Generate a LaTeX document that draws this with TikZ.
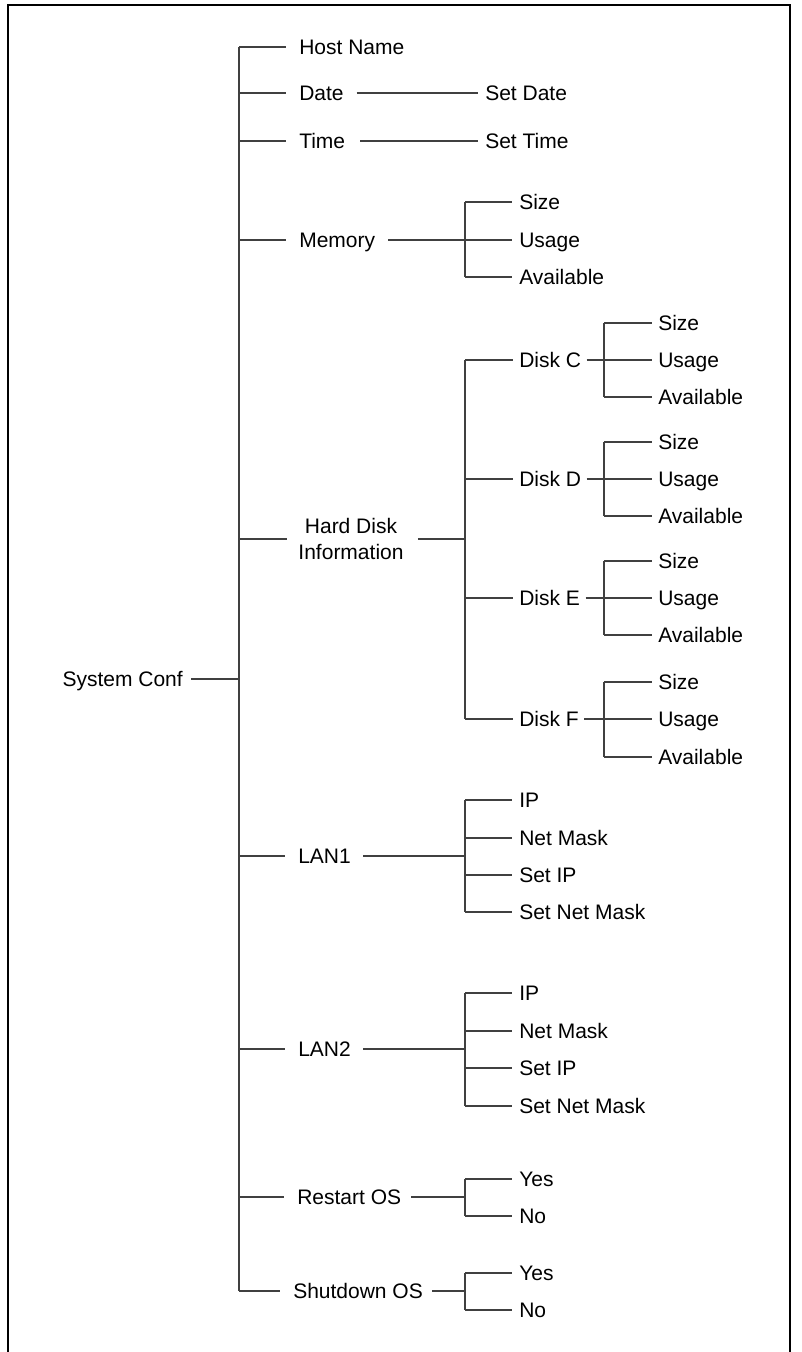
\documentclass[tikz,border=0pt]{standalone}
\usepackage{fontspec}
\setmainfont{Liberation Sans}
\begin{document}
\begin{tikzpicture}[x=0.75pt,y=-0.75pt,
  lbl/.style={inner sep=0pt, text height=11.3pt, text depth=0pt, anchor=west,
    font=\fontsize{15.75pt}{19.5pt}\selectfont},
  twoline/.style={inner sep=0pt, align=center, anchor=center,
    font=\fontsize{15.75pt}{19.5pt}\selectfont},
  ln/.style={draw=black!75, line width=0.8pt},
  frame/.style={draw=black, line width=1.6pt}]
\useasboundingbox (0,0) rectangle (801,1352);
\draw[frame] (8,1352) -- (8,5) -- (790,5) -- (790,1352);

% bracket x positions
\coordinate (T) at (239,0);
\coordinate (B1) at (465,0);
\coordinate (B2) at (604,0);

% root
\node[lbl, anchor=east] (sys) at (183,679) {System Conf};

% level 1
\node[lbl] (host) at (299,47) {Host Name};
\node[lbl] (date) at (299,93) {Date};
\node[lbl] (time) at (299,141) {Time};
\node[lbl] (mem) at (299,240) {Memory};
\node[twoline] (hdi) at (351,539) {Hard Disk\\Information};
\node[lbl] (lan1) at (298,856) {LAN1};
\node[lbl] (lan2) at (298,1049) {LAN2};
\node[lbl] (restart) at (297,1197) {Restart OS};
\node[lbl] (shut) at (293,1291) {Shutdown OS};

% level 2
\node[lbl] (setdate) at (485,93) {Set Date};
\node[lbl] (settime) at (485,141) {Set Time};
\node[lbl] (msize) at (519,202) {Size};
\node[lbl] (musage) at (519,240) {Usage};
\node[lbl] (mavail) at (519,277) {Available};
\node[lbl] (dc) at (519,360) {Disk C};
\node[lbl] (dd) at (519,479) {Disk D};
\node[lbl] (de) at (519,598) {Disk E};
\node[lbl] (df) at (519,719) {Disk F};
\node[lbl] (ipa) at (519,800) {IP};
\node[lbl] (nma) at (519,838) {Net Mask};
\node[lbl] (sipa) at (519,875) {Set IP};
\node[lbl] (snma) at (519,912) {Set Net Mask};
\node[lbl] (ipb) at (519,993) {IP};
\node[lbl] (nmb) at (519,1031) {Net Mask};
\node[lbl] (sipb) at (519,1068) {Set IP};
\node[lbl] (snmb) at (519,1106) {Set Net Mask};
\node[lbl] (ryes) at (519,1179) {Yes};
\node[lbl] (rno) at (519,1216) {No};
\node[lbl] (syes) at (519,1273) {Yes};
\node[lbl] (sno) at (519,1310) {No};

% level 3 (disk leaves)
\node[lbl] (dcs) at (658,323) {Size};
\node[lbl] (dcu) at (658,360) {Usage};
\node[lbl] (dca) at (658,397) {Available};
\node[lbl] (dds) at (658,442) {Size};
\node[lbl] (ddu) at (658,479) {Usage};
\node[lbl] (dda) at (658,516) {Available};
\node[lbl] (des) at (658,561) {Size};
\node[lbl] (deu) at (658,598) {Usage};
\node[lbl] (dea) at (658,635) {Available};
\node[lbl] (dfs) at (658,682) {Size};
\node[lbl] (dfu) at (658,719) {Usage};
\node[lbl] (dfa) at (658,757) {Available};

% root connector and trunk
\draw[ln] ([xshift=6pt]sys.east) -- (sys.east -| T);
\draw[ln] (host.west -| T) -- (shut.west -| T);
\foreach \n in {host,date,time,mem,lan1,lan2,restart,shut}
  \draw[ln] (\n.west -| T) -- ([xshift=-9.75pt]\n.west);
\draw[ln] (hdi.west -| T) -- ([xshift=-8.5pt]hdi.west);

% date / time
\draw[ln] ([xshift=9.5pt]date.east) -- ([xshift=-5.25pt]setdate.west);
\draw[ln] ([xshift=11pt]time.east) -- ([xshift=-5.25pt]settime.west);

% level-1 to bracket B1
\draw[ln] ([xshift=9.5pt]mem.east) -- (mem.east -| B1);
\draw[ln] ([xshift=10.5pt]hdi.east) -- (hdi.east -| B1);
\draw[ln] ([xshift=9pt]lan1.east) -- (lan1.east -| B1);
\draw[ln] ([xshift=9pt]lan2.east) -- (lan2.east -| B1);
\draw[ln] ([xshift=7.5pt]restart.east) -- (restart.east -| B1);
\draw[ln] ([xshift=7pt]shut.east) -- (shut.east -| B1);

% B1 brackets
\draw[ln] (msize.west -| B1) -- (mavail.west -| B1);
\draw[ln] (dc.west -| B1) -- (df.west -| B1);
\draw[ln] (ipa.west -| B1) -- (snma.west -| B1);
\draw[ln] (ipb.west -| B1) -- (snmb.west -| B1);
\draw[ln] (ryes.west -| B1) -- (rno.west -| B1);
\draw[ln] (syes.west -| B1) -- (sno.west -| B1);
\foreach \n in {msize,musage,mavail,ipa,nma,sipa,snma,ipb,nmb,sipb,snmb,ryes,rno,syes,sno}
  \draw[ln] (\n.west -| B1) -- ([xshift=-5.25pt]\n.west);
\foreach \n in {dc,dd,de,df}
  \draw[ln] (\n.west -| B1) -- ([xshift=-4.5pt]\n.west);

% disks to B2
\foreach \n/\s/\a in {dc/dcs/dca,dd/dds/dda,de/des/dea,df/dfs/dfa}{
  \draw[ln] ([xshift=4pt]\n.east) -- (\n.east -| B2);
  \draw[ln] (\s.west -| B2) -- (\a.west -| B2);
}
\foreach \n in {dcs,dcu,dca,dds,ddu,dda,des,deu,dea,dfs,dfu,dfa}
  \draw[ln] (\n.west -| B2) -- ([xshift=-4.5pt]\n.west);
\end{tikzpicture}
\end{document}
